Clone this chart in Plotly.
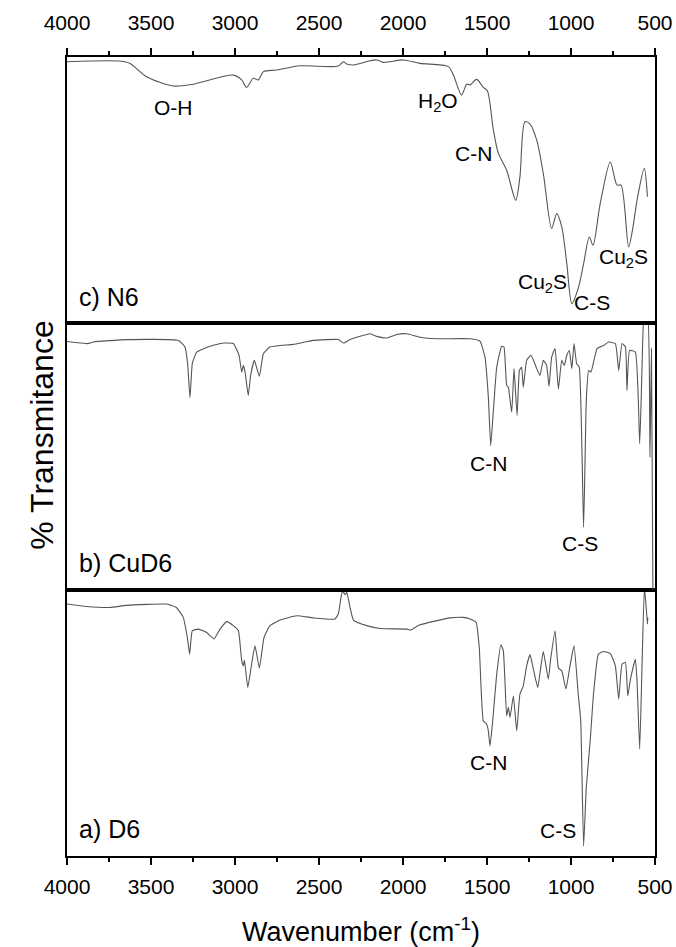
import plotly.graph_objects as go

# ---------------- data ----------------
# c) N6  -- wavenumber (cm-1) and relative transmittance (%)
n6_wn = [4000, 3686, 3625, 3526, 3367, 3248, 3010, 2960, 2931, 2891, 2861, 2831, 2752,
         2613, 2385, 2355, 2335, 2295, 2196, 2156, 2117, 1998, 1899, 1730, 1700, 1651,
         1621, 1601, 1562, 1522, 1498, 1462, 1432, 1383, 1329, 1304, 1274, 1244, 1204,
         1165, 1115, 1085, 1055, 1025, 995, 955, 925, 891, 869, 826, 766, 726, 702, 657,
         631, 607, 564, 545]
n6_t = [98.2, 98.5, 97.6, 92.6, 89.1, 89.8, 93.2, 91.4, 88.6, 92.0, 91.4, 94.5, 95.1,
        96.7, 96.6, 98.2, 97.4, 97.0, 98.6, 98.9, 98.0, 98.9, 97.6, 96.4, 93.2, 85.7,
        89.8, 89.5, 91.6, 88.6, 87.3, 72.6, 63.8, 57.5, 46.2, 55.0, 75.7, 74.8, 68.8,
        56.3, 35.6, 41.2, 36.2, 22.4, 7.4, 13.6, 22.4, 32.4, 29.3, 45.0, 60.6, 51.9, 51.9,
        28.7, 36.2, 46.2, 58.2, 47.5]

# b) CuD6
cud6_wn = [4000, 3875, 3843, 3645, 3337, 3298, 3282, 3268, 3254, 3228, 3149, 3069, 3010,
           2976, 2960, 2950, 2940, 2921, 2907, 2885, 2855, 2831, 2792, 2653, 2534, 2385,
           2355, 2315, 2196, 2156, 2097, 2037, 1978, 1899, 1800, 1601, 1542, 1512, 1492,
           1478, 1462, 1442, 1413, 1399, 1383, 1373, 1353, 1339, 1321, 1307, 1294, 1284,
           1264, 1238, 1204, 1185, 1165, 1145, 1131, 1115, 1095, 1075, 1055, 1040, 1025,
           1010, 995, 982, 966, 951, 925, 909, 895, 881, 845, 806, 776, 736, 716, 696, 676,
           667, 651, 617, 591, 577, 563, 545, 530, 521, 512]
cud6_t = [93.2, 92.4, 93.0, 93.9, 93.6, 91.1, 84.8, 72.1, 85.0, 89.2, 91.4, 92.6, 92.4,
          88.0, 81.7, 84.2, 81.7, 72.9, 80.4, 86.1, 80.1, 88.6, 91.1, 92.1, 93.6, 93.9,
          92.6, 93.9, 96.1, 95.1, 94.5, 95.8, 96.1, 94.8, 94.2, 94.2, 93.3, 87.3, 72.3,
          54.1, 67.3, 83.6, 91.4, 91.1, 76.7, 76.0, 66.6, 83.0, 65.4, 82.3, 83.6, 76.0,
          86.1, 88.0, 83.0, 80.4, 86.1, 84.2, 76.3, 87.3, 90.5, 75.4, 86.1, 84.2, 88.0,
          89.8, 83.0, 92.4, 84.8, 83.6, 23.4, 71.0, 82.3, 81.7, 90.5, 91.7, 93.0, 92.4,
          82.3, 92.4, 91.1, 74.8, 89.8, 89.2, 54.8, 83.6, 104.0, 104.0, 49.7, 90.5, -5.0]

# a) D6
d6_wn = [4000, 3885, 3746, 3646, 3408, 3349, 3308, 3284, 3270, 3254, 3218, 3169, 3125,
         3089, 3049, 3010, 2980, 2960, 2950, 2944, 2924, 2901, 2881, 2855, 2827, 2792,
         2732, 2633, 2534, 2405, 2385, 2369, 2359, 2345, 2335, 2315, 2295, 2216, 2137,
         1978, 1958, 1899, 1720, 1641, 1601, 1565, 1546, 1522, 1502, 1492, 1482, 1466,
         1442, 1417, 1403, 1383, 1373, 1363, 1343, 1323, 1304, 1284, 1264, 1244, 1224,
         1198, 1165, 1135, 1121, 1095, 1075, 1055, 1030, 1006, 982, 957, 942, 925, 909,
         885, 866, 837, 806, 766, 736, 716, 696, 676, 662, 646, 617, 607, 591, 577, 563,
         551, 545, 543]
d6_t = [94.6, 93.7, 93.3, 94.1, 94.6, 93.3, 89.6, 82.1, 75.8, 84.6, 85.2, 83.9, 81.5,
        85.2, 88.0, 86.5, 84.6, 73.3, 71.4, 73.6, 63.3, 72.1, 78.9, 70.6, 82.1, 86.5,
        88.6, 90.2, 89.4, 89.0, 90.9, 97.1, 99.6, 98.1, 99.0, 93.3, 88.6, 86.5, 85.4,
        85.2, 84.8, 86.8, 89.4, 89.6, 89.0, 87.7, 78.3, 50.7, 49.5, 47.0, 41.3, 50.7,
        68.3, 79.3, 77.1, 52.6, 55.8, 52.0, 60.1, 47.0, 60.8, 63.9, 71.4, 75.6, 70.2,
        63.3, 76.8, 66.4, 73.9, 84.6, 70.6, 69.5, 62.7, 71.4, 78.9, 60.8, 50.7, 3.7, 25.7,
        43.9, 60.8, 75.8, 76.8, 76.0, 71.4, 58.9, 72.1, 72.7, 60.1, 66.4, 73.9, 65.8, 40.1,
        72.1, 101.0, 92.1, 87.1, 89.6]

panel_names = ["c) N6", "b) CuD6", "a) D6"]

# band labels: (panel, text, wavenumber, transmittance)
band_labels = [
    ("N6", "O-H", 3369, 81.2),
    ("N6", "H<sub>2</sub>O", 1792, 83.1),
    ("N6", "C-N", 1583, 63.9),
    ("N6", "Cu<sub>2</sub>S", 1167, 15.0),
    ("N6", "C-S", 875, 7.9),
    ("N6", "Cu<sub>2</sub>S", 690, 24.4),
    ("CuD6", "C-N", 1494, 47.4),
    ("CuD6", "C-S", 946, 17.3),
    ("D6", "C-N", 1494, 35.0),
    ("D6", "C-S", 1077, 9.4),
]

x_ticks = [4000, 3500, 3000, 2500, 2000, 1500, 1000, 500]

# ---------------- figure ----------------
FONT = "Liberation Sans, Arial, sans-serif"
LINE = "#555555"
fig = go.Figure()

axes_for = {"N6": ("x3", "y3"), "CuD6": ("x2", "y2"), "D6": ("x", "y")}
series = {"N6": (n6_wn, n6_t), "CuD6": (cud6_wn, cud6_t), "D6": (d6_wn, d6_t)}
smooth = {"N6": 0.8, "CuD6": 0.4, "D6": 0.4}
for key, (wn, t) in series.items():
    xa, ya = axes_for[key]
    fig.add_trace(go.Scatter(x=wn, y=t, mode="lines", xaxis=xa, yaxis=ya,
                             line=dict(color=LINE, width=1.1, shape="spline",
                                       smoothing=smooth[key]),
                             showlegend=False, hoverinfo="skip"))

common_x = dict(range=[4000, 500], showgrid=False, zeroline=False, showline=True,
                linecolor="black", linewidth=2, mirror=True, automargin=False,
                tickfont=dict(family=FONT, size=21, color="black"))
tick_x = dict(tickmode="array", tickvals=x_ticks, ticks="outside", ticklen=7,
              tickwidth=1.5, tickcolor="black",
              minor=dict(ticks="outside", ticklen=4, dtick=250, tick0=500,
                         tickwidth=1.5, tickcolor="black"))
common_y = dict(range=[0, 100], showgrid=False, zeroline=False, showline=True,
                linecolor="black", linewidth=2, mirror=True, showticklabels=False,
                ticks="", automargin=False)

fig.update_layout(
    width=676, height=947,
    margin=dict(l=67, r=21, t=57, b=91, autoexpand=False),
    paper_bgcolor="white", plot_bgcolor="white",
    xaxis=dict(**common_x, **tick_x, anchor="y", side="bottom", ticklabelstandoff=4,
               title=dict(text="Wavenumber (cm<sup>-1</sup>)",
                          font=dict(family=FONT, size=27, color="black"), standoff=26)),
    xaxis2=dict(**common_x, anchor="y2", showticklabels=False, ticks="", matches="x"),
    xaxis3=dict(**common_x, **tick_x, anchor="y3", side="top", matches="x",
                ticklabelstandoff=10),
    yaxis=dict(**common_y, domain=[0, 1 / 3], anchor="x"),
    yaxis2=dict(**common_y, domain=[1 / 3, 2 / 3], anchor="x2"),
    yaxis3=dict(**common_y, domain=[2 / 3, 1], anchor="x3"),
)

ann = []
for key, text, w, t in band_labels:
    xa, ya = axes_for[key]
    ann.append(dict(x=w, y=t, xref=xa, yref=ya, text=text, showarrow=False,
                    font=dict(family=FONT, size=21, color="black")))
for key, name in zip(["N6", "CuD6", "D6"], panel_names):
    xa, ya = axes_for[key]
    ann.append(dict(x=0.017, y=0.1, xref=f"{xa} domain", yref=f"{ya} domain",
                    text=name, showarrow=False, xanchor="left", yanchor="middle",
                    font=dict(family=FONT, size=25, color="black")))
ann.append(dict(x=-0.0765, y=0.526, xref="paper", yref="paper", text="% Transmitance",
                textangle=-90, showarrow=False,
                font=dict(family=FONT, size=32, color="black")))
fig.update_layout(annotations=ann)

fig.write_html("out.html")
